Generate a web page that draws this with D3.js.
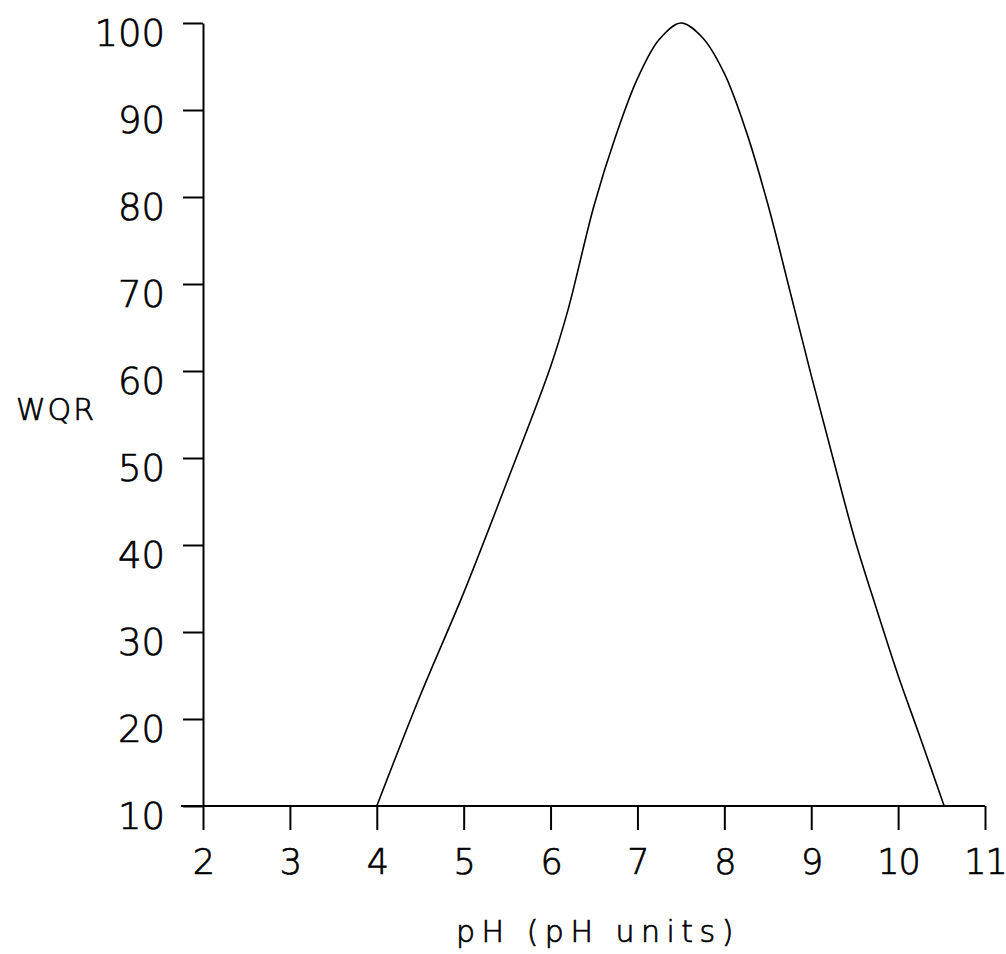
<!DOCTYPE html>
<html>
<head>
<meta charset="utf-8">
<script src="https://cdn.jsdelivr.net/npm/d3@7"></script>
<style>
  html, body { margin: 0; padding: 0; background: #fff; }
  svg text { font-family: "DejaVu Sans", "Liberation Sans", sans-serif; font-weight: 200; fill: #000; stroke: #000; stroke-width: 0.7px; }
</style>
</head>
<body>
<svg id="chart" width="1006" height="954"></svg>
<script>
// Data
const xTicks = [2, 3, 4, 5, 6, 7, 8, 9, 10, 11];
const yTicks = [10, 20, 30, 40, 50, 60, 70, 80, 90, 100];
const pH  = [4.0, 4.5, 5.0, 5.5, 6.0, 6.2, 6.5, 6.75, 7.0, 7.25, 7.5, 7.75, 8.0, 8.25, 8.5, 8.75, 9.0, 9.25, 9.5, 9.75, 10.0, 10.25, 10.53];
const wqr = [10, 22.7, 34.5, 47.3, 60.5, 67, 79, 87, 93.6, 98.1, 100, 98.3, 94.2, 87.6, 79.2, 69.4, 59.5, 50, 40.7, 32.7, 25, 18, 10];
const xTitle = "pH (pH units)";
const yTitle = "WQR";

const svg = d3.select("#chart");
const x = d3.scaleLinear().domain([2, 11]).range([203, 985]);
const y = d3.scaleLinear().domain([10, 100]).range([806, 23]);

// Y axis with ticks to the left
const yAxis = d3.axisLeft(y).tickValues(yTicks).tickSize(20).tickSizeOuter(0).tickFormat(d => d);
const gy = svg.append("g").attr("transform", `translate(${x(2)},0)`).call(yAxis);
gy.attr("font-family", null).attr("font-size", null);
gy.select(".domain").attr("stroke", "#000").attr("stroke-width", 2);
gy.selectAll(".tick line").attr("stroke", "#000").attr("stroke-width", 2);
gy.selectAll(".tick text")
  .attr("x", -38).attr("y", 9).attr("dy", "0.36em")
  .style("font-size", "37px");

// X axis with ticks downward
const xAxis = d3.axisBottom(x).tickValues(xTicks).tickSize(24).tickSizeOuter(0).tickFormat(d => d);
const gx = svg.append("g").attr("transform", `translate(0,${y(10)})`).call(xAxis);
gx.attr("font-family", null).attr("font-size", null);
gx.select(".domain").remove();
gx.append("line").attr("x1", x(2) - 22).attr("x2", x(11)).attr("y1", 0).attr("y2", 0)
  .attr("stroke", "#000").attr("stroke-width", 2);
gx.selectAll(".tick line").attr("stroke", "#000").attr("stroke-width", 2);
gx.selectAll(".tick text")
  .attr("y", 43).attr("dy", "0.71em")
  .style("font-size", "35px").style("letter-spacing", "-1px");

// Curve
const line = d3.line().x((d, i) => x(pH[i])).y((d, i) => y(wqr[i])).curve(d3.curveCatmullRom.alpha(0.5));
svg.append("path").datum(pH).attr("d", line)
  .attr("fill", "none").attr("stroke", "#000").attr("stroke-width", 1.6);

// Titles
svg.append("text").attr("x", 56).attr("y", 420).attr("text-anchor", "middle")
  .style("font-size", "30px").style("letter-spacing", "2px").text(yTitle);
svg.append("text").attr("x", 598).attr("y", 942).attr("text-anchor", "middle")
  .style("font-size", "30px").style("letter-spacing", "6.5px").text(xTitle);
</script>
</body>
</html>
